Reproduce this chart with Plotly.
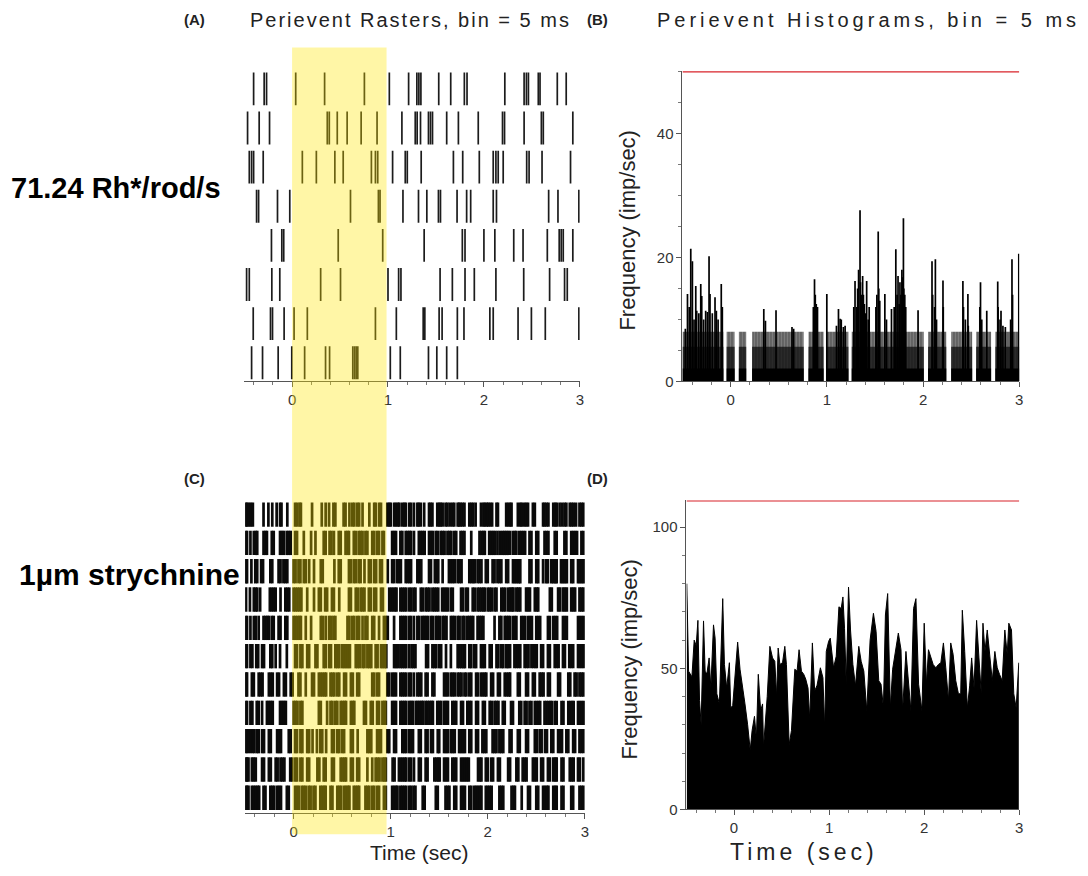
import plotly.graph_objects as go

# ---------------- data ----------------
# Panel A: spike times (s) per trial, top trial first
raster_a = [
    [-0.401, -0.291, -0.266, 0.038, 0.339, 0.754, 1.014, 1.215, 1.301, 1.322, 1.343, 1.529, 1.654, 1.796, 1.824,
     2.218, 2.419, 2.443, 2.464, 2.567, 2.585, 2.765, 2.858],
    [-0.464, -0.343, -0.235, 0.367, 0.388, 0.471, 0.574, 0.720, 0.886, 1.145, 1.284, 1.304, 1.339, 1.422, 1.443,
     1.464, 1.612, 1.734, 1.941, 2.194, 2.215, 2.419, 2.599, 2.619, 2.927],
    [-0.446, -0.422, -0.401, -0.301, 0.107, 0.253, 0.446, 0.533, 0.827, 0.869, 0.893, 1.048, 1.180, 1.201, 1.346,
     1.682, 1.779, 1.952, 2.097, 2.125, 2.149, 2.201, 2.446, 2.471, 2.606, 2.903],
    [-0.370, -0.349, -0.152, -0.024, 0.609, 0.900, 0.917, 1.156, 1.318, 1.405, 1.526, 1.547, 1.720, 1.820, 1.862,
     2.097, 2.131, 2.675, 2.772, 2.990],
    [-0.215, -0.107, -0.087, 0.481, 0.945, 1.377, 1.775, 1.803, 2.000, 2.114, 2.311, 2.408, 2.661, 2.785, 2.806,
     2.827, 2.927],
    [-0.474, -0.446, -0.211, -0.128, 0.298, 0.505, 1.000, 1.111, 1.135, 1.543, 1.671, 1.803, 1.900, 2.125, 2.415,
     2.685, 2.841, 2.869],
    [-0.405, -0.225, -0.204, -0.083, 0.021, 0.159, 0.869, 1.087, 1.367, 1.384, 1.533, 1.564, 1.723, 1.792, 2.062,
     2.097, 2.356, 2.495, 2.640, 2.990],
    [-0.422, -0.308, -0.145, -0.003, 0.131, 0.349, 0.391, 0.633, 0.651, 0.668, 0.685, 1.024, 1.128, 1.422, 1.509,
     1.612, 1.723],
]

# Panel C: spike times (s) per trial with strychnine, top trial first
raster_c = [
    [-0.49, -0.48, -0.46, -0.44, -0.42, -0.31, -0.26, -0.22, -0.175, -0.14, -0.125, -0.065, 0.015, 0.035, 0.06, 0.075,
     0.19, 0.29, 0.33, 0.365, 0.41, 0.43, 0.515, 0.535, 0.575, 0.605, 0.625, 0.655, 0.675, 0.71, 0.78, 0.83, 0.845,
     0.88, 0.9, 0.965, 0.985, 1.0, 1.035, 1.055, 1.075, 1.09, 1.12, 1.14, 1.155, 1.19, 1.21, 1.24, 1.275, 1.29, 1.31,
     1.345, 1.395, 1.41, 1.43, 1.48, 1.5, 1.515, 1.535, 1.565, 1.585, 1.61, 1.635, 1.655, 1.69, 1.705, 1.72, 1.74,
     1.76, 1.81, 1.83, 1.85, 1.875, 1.93, 1.955, 1.97, 1.99, 2.005, 2.025, 2.045, 2.09, 2.105, 2.19, 2.21, 2.23,
     2.245, 2.31, 2.335, 2.35, 2.375, 2.395, 2.415, 2.465, 2.485, 2.57, 2.585, 2.605, 2.625, 2.675, 2.695, 2.71,
     2.74, 2.765, 2.79, 2.81, 2.845, 2.865, 2.885, 2.91, 2.945, 2.965, 2.985],
    [-0.49, -0.48, -0.445, -0.41, -0.39, -0.375, -0.31, -0.29, -0.275, -0.225, -0.205, -0.14, -0.12, -0.1, -0.07,
     -0.05, -0.03, 0.015, 0.035, 0.105, 0.18, 0.225, 0.31, 0.33, 0.37, 0.39, 0.415, 0.465, 0.485, 0.535, 0.555,
     0.57, 0.62, 0.64, 0.67, 0.69, 0.71, 0.74, 0.76, 0.81, 0.83, 0.86, 0.88, 0.915, 0.93, 1.015, 1.035, 1.055, 1.1,
     1.12, 1.155, 1.175, 1.195, 1.21, 1.24, 1.29, 1.31, 1.33, 1.35, 1.395, 1.415, 1.435, 1.465, 1.485, 1.515, 1.535,
     1.555, 1.585, 1.605, 1.625, 1.655, 1.675, 1.72, 1.74, 1.76, 1.83, 1.915, 1.935, 1.955, 1.97, 2.015, 2.035,
     2.055, 2.075, 2.1, 2.125, 2.15, 2.17, 2.19, 2.21, 2.23, 2.26, 2.28, 2.295, 2.325, 2.345, 2.365, 2.385, 2.43,
     2.45, 2.5, 2.52, 2.585, 2.605, 2.625, 2.69, 2.71, 2.79, 2.81, 2.86, 2.88, 2.9, 2.92, 2.965, 2.985],
    [-0.49, -0.48, -0.435, -0.395, -0.375, -0.335, -0.315, -0.24, -0.22, -0.155, -0.135, -0.105, -0.085, -0.065,
     0.0, 0.02, 0.05, 0.07, 0.105, 0.125, 0.16, 0.21, 0.28, 0.3, 0.42, 0.465, 0.485, 0.57, 0.59, 0.62, 0.64, 0.67,
     0.69, 0.73, 0.775, 0.795, 0.83, 0.85, 0.89, 0.91, 0.97, 1.015, 1.035, 1.065, 1.085, 1.105, 1.155, 1.175,
     1.195, 1.21, 1.275, 1.295, 1.315, 1.395, 1.415, 1.455, 1.475, 1.49, 1.535, 1.6, 1.62, 1.64, 1.66, 1.69, 1.71,
     1.73, 1.81, 1.83, 1.85, 1.865, 1.895, 1.915, 1.935, 1.98, 2.0, 2.05, 2.07, 2.1, 2.12, 2.14, 2.19, 2.21, 2.26,
     2.28, 2.3, 2.32, 2.335, 2.43, 2.45, 2.5, 2.52, 2.57, 2.6, 2.62, 2.655, 2.675, 2.695, 2.71, 2.755, 2.775,
     2.795, 2.815, 2.86, 2.88, 2.93, 2.95, 2.97, 2.99],
    [-0.49, -0.45, -0.41, -0.39, -0.375, -0.345, -0.245, -0.225, -0.205, -0.185, -0.135, -0.085, -0.065, -0.045,
     0.0, 0.02, 0.04, 0.06, 0.08, 0.14, 0.21, 0.26, 0.28, 0.325, 0.345, 0.395, 0.415, 0.47, 0.57, 0.59, 0.64, 0.66,
     0.69, 0.71, 0.73, 0.775, 0.795, 0.83, 0.85, 0.9, 0.92, 0.985, 1.005, 1.025, 1.045, 1.06, 1.1, 1.12, 1.14, 1.16,
     1.19, 1.21, 1.235, 1.255, 1.31, 1.33, 1.36, 1.38, 1.4, 1.43, 1.45, 1.47, 1.49, 1.53, 1.55, 1.57, 1.59, 1.62,
     1.64, 1.725, 1.745, 1.775, 1.795, 1.845, 1.865, 1.895, 1.915, 1.935, 1.955, 1.97, 2.0, 2.02, 2.04, 2.07, 2.09,
     2.14, 2.16, 2.18, 2.21, 2.23, 2.25, 2.265, 2.295, 2.315, 2.335, 2.395, 2.415, 2.435, 2.485, 2.505, 2.52, 2.64,
     2.66, 2.725, 2.745, 2.775, 2.795, 2.815, 2.86, 2.88, 2.9, 2.945, 2.965, 2.985],
    [-0.49, -0.48, -0.445, -0.41, -0.39, -0.36, -0.31, -0.29, -0.27, -0.255, -0.225, -0.205, -0.155, -0.135,
     -0.085, -0.065, 0.0, 0.02, 0.04, 0.06, 0.075, 0.125, 0.18, 0.28, 0.3, 0.33, 0.365, 0.385, 0.41, 0.43, 0.555,
     0.575, 0.605, 0.625, 0.655, 0.675, 0.71, 0.74, 0.76, 0.81, 0.83, 0.88, 0.93, 0.95, 0.97, 1.035, 1.1, 1.12,
     1.14, 1.16, 1.19, 1.21, 1.24, 1.275, 1.295, 1.325, 1.345, 1.365, 1.385, 1.415, 1.435, 1.465, 1.485, 1.505,
     1.535, 1.555, 1.575, 1.62, 1.64, 1.66, 1.69, 1.71, 1.74, 1.76, 1.79, 1.81, 1.83, 1.85, 1.895, 1.915, 1.935,
     1.955, 2.07, 2.12, 2.14, 2.175, 2.195, 2.215, 2.23, 2.26, 2.28, 2.295, 2.345, 2.365, 2.385, 2.415, 2.435,
     2.455, 2.5, 2.52, 2.54, 2.62, 2.64, 2.675, 2.695, 2.715, 2.775, 2.795, 2.815, 2.93, 2.95, 2.97, 2.99],
    [-0.49, -0.48, -0.445, -0.425, -0.385, -0.365, -0.325, -0.305, -0.24, -0.22, -0.185, -0.14, -0.07, 0.015,
     0.035, 0.07, 0.09, 0.14, 0.16, 0.225, 0.245, 0.31, 0.33, 0.365, 0.385, 0.43, 0.45, 0.47, 0.5, 0.52, 0.54,
     0.56, 0.58, 0.64, 0.66, 0.68, 0.71, 0.73, 0.76, 0.78, 0.8, 0.845, 0.865, 0.9, 0.92, 0.94, 0.955, 1.035, 1.055,
     1.075, 1.1, 1.12, 1.14, 1.16, 1.19, 1.215, 1.235, 1.255, 1.365, 1.385, 1.43, 1.45, 1.47, 1.5, 1.52, 1.57,
     1.62, 1.69, 1.71, 1.73, 1.75, 1.765, 1.81, 1.83, 1.86, 1.88, 1.93, 1.95, 1.97, 2.02, 2.04, 2.09, 2.11, 2.14,
     2.16, 2.19, 2.21, 2.23, 2.275, 2.295, 2.315, 2.335, 2.38, 2.4, 2.42, 2.45, 2.47, 2.49, 2.505, 2.55, 2.57,
     2.62, 2.64, 2.69, 2.71, 2.73, 2.775, 2.795, 2.84, 2.86, 2.88, 2.93, 2.95, 2.97, 2.99],
    [-0.49, -0.48, -0.43, -0.41, -0.36, -0.34, -0.32, -0.255, -0.235, -0.215, -0.17, -0.15, -0.1, -0.08, -0.03,
     -0.01, 0.05, 0.07, 0.125, 0.19, 0.21, 0.26, 0.28, 0.3, 0.32, 0.335, 0.38, 0.4, 0.42, 0.45, 0.47, 0.52, 0.54,
     0.59, 0.61, 0.655, 0.675, 0.81, 0.83, 0.86, 0.88, 0.965, 0.985, 1.015, 1.035, 1.055, 1.1, 1.12, 1.14, 1.16,
     1.19, 1.21, 1.24, 1.275, 1.295, 1.315, 1.36, 1.38, 1.43, 1.45, 1.55, 1.57, 1.59, 1.62, 1.64, 1.66, 1.69, 1.71,
     1.73, 1.76, 1.78, 1.81, 1.83, 1.88, 1.9, 1.93, 1.95, 1.97, 1.985, 2.035, 2.055, 2.105, 2.125, 2.175, 2.195,
     2.215, 2.23, 2.31, 2.33, 2.395, 2.415, 2.465, 2.485, 2.535, 2.555, 2.575, 2.62, 2.64, 2.725, 2.745, 2.83,
     2.85, 2.895, 2.915, 2.945, 2.965, 2.985],
    [-0.49, -0.48, -0.445, -0.425, -0.38, -0.36, -0.325, -0.275, -0.255, -0.235, -0.215, -0.14, -0.12, -0.1, -0.08,
     0.0, 0.02, 0.04, 0.07, 0.09, 0.26, 0.28, 0.345, 0.38, 0.4, 0.43, 0.45, 0.485, 0.505, 0.525, 0.54, 0.59, 0.61,
     0.625, 0.725, 0.745, 0.795, 0.815, 0.86, 0.88, 0.915, 0.935, 0.95, 1.015, 1.035, 1.055, 1.1, 1.12, 1.14, 1.16,
     1.19, 1.21, 1.23, 1.26, 1.28, 1.3, 1.32, 1.335, 1.36, 1.38, 1.4, 1.42, 1.435, 1.48, 1.5, 1.52, 1.55, 1.57,
     1.59, 1.635, 1.655, 1.675, 1.725, 1.745, 1.79, 1.81, 1.83, 1.88, 1.9, 1.95, 1.97, 2.02, 2.04, 2.07, 2.09, 2.11,
     2.155, 2.175, 2.24, 2.26, 2.325, 2.345, 2.38, 2.4, 2.43, 2.45, 2.485, 2.505, 2.525, 2.54, 2.585, 2.605, 2.625,
     2.645, 2.66, 2.69, 2.71, 2.76, 2.78, 2.83, 2.85, 2.87, 2.885, 2.93, 2.95, 2.97, 2.99],
    [-0.49, -0.48, -0.46, -0.44, -0.42, -0.405, -0.38, -0.36, -0.325, -0.305, -0.255, -0.235, -0.17, -0.15, -0.13,
     -0.05, -0.03, 0.015, 0.035, 0.07, 0.09, 0.14, 0.16, 0.195, 0.24, 0.275, 0.295, 0.335, 0.395, 0.415, 0.45,
     0.47, 0.5, 0.52, 0.59, 0.61, 0.66, 0.76, 0.78, 0.8, 0.86, 0.88, 0.9, 0.965, 0.985, 1.035, 1.055, 1.12, 1.14,
     1.16, 1.19, 1.21, 1.23, 1.29, 1.31, 1.36, 1.38, 1.415, 1.435, 1.485, 1.5, 1.55, 1.57, 1.59, 1.62, 1.64, 1.66,
     1.705, 1.725, 1.745, 1.765, 1.81, 1.83, 1.88, 1.9, 1.945, 1.965, 1.985, 2.05, 2.07, 2.09, 2.12, 2.14, 2.16,
     2.225, 2.245, 2.31, 2.33, 2.395, 2.415, 2.485, 2.505, 2.535, 2.555, 2.59, 2.61, 2.655, 2.675, 2.725, 2.745,
     2.765, 2.81, 2.83, 2.88, 2.9, 2.945, 2.965, 2.985],
    [-0.49, -0.48, -0.465, -0.43, -0.41, -0.39, -0.325, -0.305, -0.255, -0.235, -0.185, -0.165, -0.135, -0.115,
     -0.095, -0.035, -0.015, 0.015, 0.035, 0.07, 0.09, 0.14, 0.16, 0.245, 0.265, 0.31, 0.33, 0.395, 0.415, 0.485,
     0.505, 0.525, 0.54, 0.59, 0.61, 0.655, 0.675, 0.76, 0.81, 0.845, 0.865, 0.885, 0.915, 0.935, 0.95, 1.02, 1.04,
     1.085, 1.105, 1.125, 1.145, 1.16, 1.19, 1.21, 1.24, 1.29, 1.31, 1.36, 1.38, 1.45, 1.47, 1.49, 1.505, 1.55,
     1.57, 1.59, 1.635, 1.655, 1.675, 1.725, 1.745, 1.765, 1.785, 1.805, 1.9, 1.92, 1.935, 1.98, 2.0, 2.035, 2.055,
     2.105, 2.125, 2.21, 2.23, 2.295, 2.315, 2.36, 2.38, 2.4, 2.465, 2.485, 2.505, 2.55, 2.57, 2.62, 2.64, 2.675,
     2.695, 2.71, 2.76, 2.78, 2.845, 2.865, 2.885, 2.93, 2.95, 2.985],
    [-0.49, -0.48, -0.465, -0.43, -0.41, -0.39, -0.37, -0.355, -0.31, -0.29, -0.24, -0.22, -0.2, -0.17, -0.15,
     -0.13, -0.07, -0.05, 0.015, 0.035, 0.055, 0.085, 0.105, 0.125, 0.155, 0.175, 0.205, 0.225, 0.275, 0.295,
     0.315, 0.33, 0.38, 0.4, 0.45, 0.47, 0.49, 0.52, 0.54, 0.56, 0.575, 0.62, 0.64, 0.66, 0.675, 0.74, 0.76, 0.78,
     0.81, 0.83, 0.86, 0.88, 0.93, 0.95, 1.015, 1.035, 1.055, 1.07, 1.1, 1.12, 1.14, 1.16, 1.19, 1.21, 1.235,
     1.255, 1.33, 1.35, 1.465, 1.485, 1.565, 1.585, 1.605, 1.655, 1.675, 1.725, 1.745, 1.765, 1.81, 1.83, 1.86,
     1.88, 1.9, 1.92, 1.935, 1.98, 2.0, 2.02, 2.04, 2.12, 2.14, 2.16, 2.245, 2.265, 2.28, 2.35, 2.415, 2.435, 2.5,
     2.52, 2.57, 2.59, 2.61, 2.625, 2.675, 2.695, 2.71, 2.76, 2.78, 2.86, 2.88, 2.945, 2.965, 2.985],
]

# Panel B: histogram (imp/sec) - occupied stretches, their rate levels, and tall bins
hist_b_seg_start = [-0.5, -0.041, 0.086, 0.224, 0.810, 0.993, 1.259, 2.052, 2.293, 2.552, 2.752]
hist_b_seg_end = [-0.076, 0.041, 0.162, 0.759, 0.966, 1.224, 2.007, 2.241, 2.510, 2.707, 3.0]
hist_b_levels = [8.0, 5.6, 2.1]
hist_b_peak_t = [-0.470, -0.448, -0.430, -0.414, -0.397, -0.380, -0.362, -0.352, -0.330, -0.310, -0.300, -0.280,
                 -0.259, -0.241, -0.224, -0.214, -0.190, -0.162, -0.148, -0.130, -0.097, -0.086,
                 0.345, 0.362, 0.472, 0.638, 0.655, 0.860, 0.872, 0.880, 0.890, 0.903, 1.000, 1.100, 1.121,
                 1.138, 1.150, 1.172, 1.190, 1.280, 1.293, 1.310, 1.320, 1.330, 1.345, 1.350, 1.360, 1.372, 1.380,
                 1.390, 1.400, 1.414, 1.430, 1.440, 1.510, 1.520, 1.534, 1.540, 1.550, 1.603, 1.620, 1.672, 1.700,
                 1.717, 1.730, 1.740, 1.752, 1.760, 1.770, 1.780, 1.786, 1.796, 1.800, 1.810, 1.820, 1.948, 2.093,
                 2.100, 2.120, 2.128, 2.140, 2.207, 2.210, 2.414, 2.420, 2.440, 2.466, 2.470, 2.590, 2.597, 2.610,
                 2.662, 2.776, 2.780, 2.800, 2.810, 2.830, 2.855, 2.910, 2.924, 2.930, 2.995]
hist_b_peak_h = [8.5, 14.1, 12.0, 21.4, 19.4, 10.0, 15.4, 11.4, 11.0, 15.7, 13.8, 10.0,
                 11.4, 11.2, 20.2, 14.1, 11.0, 13.6, 11.4, 10.0, 15.7, 12.0,
                 11.7, 9.8, 11.5, 8.8, 8.5, 12.0, 16.5, 14.0, 12.5, 12.0, 14.1, 9.0, 11.7,
                 10.1, 10.0, 8.8, 9.0, 12.0, 16.2, 12.0, 15.0, 18.0, 27.6, 16.0, 14.0, 17.0, 14.0,
                 12.5, 11.0, 16.2, 10.0, 12.0, 12.0, 14.0, 24.2, 15.0, 13.0, 14.1, 10.0, 11.7, 12.0,
                 21.3, 14.0, 17.0, 12.5, 16.0, 14.0, 18.0, 16.8, 26.3, 15.0, 14.0, 12.0, 11.5, 19.4,
                 14.0, 12.0, 19.7, 10.0, 16.3, 12.0, 16.2, 12.0, 10.0, 14.1, 9.0, 12.0, 16.0, 10.0,
                 11.4, 16.1, 12.0, 10.0, 11.4, 9.0, 8.8, 10.0, 19.7, 14.0, 20.6]

# Panel D: histogram outline (imp/sec)
hist_d_t = [-0.497, -0.478, -0.443, -0.419, -0.398, -0.380, -0.363, -0.346, -0.321, -0.304, -0.286, -0.262, -0.244,
            -0.216, -0.199, -0.181, -0.154, -0.119, -0.101, -0.077, -0.049, -0.035, -0.014, 0.010, 0.038, 0.063,
            0.091, 0.115, 0.143, 0.17, 0.19, 0.215, 0.235, 0.255, 0.28, 0.300, 0.31, 0.33, 0.349, 0.377, 0.405,
            0.429, 0.447, 0.464, 0.482, 0.510, 0.534, 0.551, 0.565, 0.58, 0.604, 0.620, 0.639, 0.663, 0.684, 0.709,
            0.733, 0.754, 0.778, 0.796, 0.824, 0.848, 0.873, 0.908, 0.935, 0.953, 0.970, 0.995, 1.012, 1.047, 1.075,
            1.103, 1.127, 1.145, 1.162, 1.180, 1.204, 1.225, 1.250, 1.277, 1.312, 1.337, 1.365, 1.396, 1.431, 1.466,
            1.494, 1.522, 1.546, 1.571, 1.592, 1.616, 1.644, 1.668, 1.696, 1.728, 1.756, 1.773, 1.808, 1.836, 1.860,
            1.888, 1.913, 1.941, 1.976, 2.000, 2.024, 2.045, 2.070, 2.094, 2.122, 2.150, 2.175, 2.202, 2.227, 2.255,
            2.279, 2.304, 2.332, 2.360, 2.384, 2.401, 2.426, 2.454, 2.478, 2.499, 2.524, 2.551, 2.576, 2.600, 2.618,
            2.639, 2.663, 2.688, 2.716, 2.743, 2.768, 2.792, 2.820, 2.848, 2.873, 2.890, 2.918, 2.942, 2.967, 2.995]
hist_d_v = [80, 49, 47, 60, 58, 67, 38.6, 30, 66.8, 49, 48, 53.7, 43,
            65.4, 60.7, 41, 37.4, 74.7, 51.4, 43, 52, 36, 36.8, 47.3, 59.3, 49.7,
            43.8, 37.4, 30, 21, 28, 33, 25, 47.9, 35, 37.4, 22, 30, 40, 57.8, 53.7,
            52.5, 40, 57.2, 51.4, 52, 57.8, 51.4, 35, 23, 28, 38, 49.7, 49, 56.6, 49,
            47.9, 46.2, 43, 32, 59, 42, 44, 50.2, 46.7, 29, 56, 59.6, 60.7, 50.2, 54.3,
            71.8, 71.2, 75.3, 64.2, 44.4, 78.8, 63.6, 51.4, 43.8, 57.8, 52.5, 49, 35, 60, 69.5,
            63.1, 45.6, 44.4, 36, 68.9, 76.5, 36, 49.7, 56, 62.5, 56.6, 35, 56, 45.6, 35,
            71.2, 74.7, 44.4, 35, 66, 44.4, 56.6, 53.7, 51.4, 50.2, 51.4, 52, 59, 50.2, 38.6,
            59, 55, 45.6, 41, 41, 70.6, 56, 36, 43.8, 53.7, 43, 67, 53.7, 41, 66,
            56, 63.6, 53.7, 45.6, 56, 50.2, 47.9, 45.6, 63.6, 54.9, 66, 63.6, 41, 36, 52]

# upper frame values of the two histograms
hist_b_top = 50
hist_d_top = 109.5

# ---------------- drawing ----------------
FONT = "Arial, Liberation Sans, sans-serif"
TICK_FONT = dict(family=FONT, size=15, color="#333333")


def raster_xy(trials, half):
    xs, ys = [], []
    n = len(trials)
    for k, spikes in enumerate(trials):
        row = n - 1 - k
        for t in spikes:
            xs += [t, t, None]
            ys += [row - half, row + half, None]
    return xs, ys


fig = go.Figure()

ax, ay = raster_xy(raster_a, 0.42)
fig.add_trace(go.Scatter(x=ax, y=ay, mode="lines", line=dict(color="#1c1c1c", width=1.7),
                         xaxis="x", yaxis="y", hoverinfo="skip"))

cx, cy = raster_xy(raster_c, 0.43)
fig.add_trace(go.Scatter(x=cx, y=cy, mode="lines", line=dict(color="#0a0a0a", width=2.7),
                         xaxis="x3", yaxis="y3", hoverinfo="skip"))

# panel B: occupied stretches drawn at each rate level, striped on top, solid below
seg_mid = [(s + e) / 2 for s, e in zip(hist_b_seg_start, hist_b_seg_end)]
seg_w = [e - s for s, e in zip(hist_b_seg_start, hist_b_seg_end)]
band_styles = [
    dict(color="white", line=dict(width=0),
         pattern=dict(shape="|", fgcolor="#000000", bgcolor="#9a9a9a", size=3, solidity=0.6)),
    dict(color="white", line=dict(width=0),
         pattern=dict(shape="|", fgcolor="#000000", bgcolor="#3a3a3a", size=3, solidity=0.7)),
    dict(color="black", line=dict(width=0)),
]
for level, style in zip(hist_b_levels, band_styles):
    fig.add_trace(go.Bar(x=seg_mid, y=[level] * len(seg_mid), width=seg_w, marker=style,
                         xaxis="x2", yaxis="y2", hoverinfo="skip"))
bx, by = [], []
for t, h in zip(hist_b_peak_t, hist_b_peak_h):
    bx += [t, t, None]
    by += [0, h, None]
fig.add_trace(go.Scatter(x=bx, y=by, mode="lines", line=dict(color="black", width=1.7),
                         xaxis="x2", yaxis="y2", hoverinfo="skip"))

fig.add_trace(go.Scatter(x=hist_d_t, y=hist_d_v, mode="lines", fill="tozeroy", fillcolor="black",
                         line=dict(color="black", width=1), xaxis="x4", yaxis="y4", hoverinfo="skip"))


def time_axis(domain, anchor):
    return dict(domain=domain, anchor=anchor, range=[-0.5, 3], tick0=0, dtick=1,
                showline=True, linecolor="#555555", linewidth=1, ticks="outside", ticklen=5,
                tickcolor="#555555", tickfont=TICK_FONT, showgrid=False, zeroline=False,
                minor=dict(ticks="outside", dtick=0.2, tick0=0, ticklen=3, tickcolor="#777777"))


fig.update_layout(
    width=1088, height=876, margin=dict(l=0, r=0, t=0, b=0),
    paper_bgcolor="white", plot_bgcolor="rgba(0,0,0,0)", showlegend=False,
    barmode="overlay",
    xaxis=time_axis([0.2252, 0.5349], "y"),
    yaxis=dict(domain=[0.5605, 0.9201], range=[-0.48, 7.5], visible=False),
    xaxis3=time_axis([0.2261, 0.5395], "y3"),
    yaxis3=dict(domain=[0.0639, 0.4235], range=[-0.52, 10.5], visible=False),
    xaxis2=time_axis([0.6296, 0.9403], "y2"),
    yaxis2=dict(domain=[0.5605, 0.9178], anchor="x2", range=[0, hist_b_top], tick0=0, dtick=20,
                showline=True, linecolor="#555555", ticks="outside", ticklen=5, tickcolor="#555555",
                tickfont=TICK_FONT, showgrid=False, zeroline=False,
                minor=dict(ticks="outside", dtick=5, ticklen=3, tickcolor="#777777")),
    xaxis4=time_axis([0.6333, 0.9403], "y4"),
    yaxis4=dict(domain=[0.0674, 0.4235], anchor="x4", range=[0, hist_d_top], tick0=0, dtick=50,
                showline=True, linecolor="#555555", ticks="outside", ticklen=5, tickcolor="#555555",
                tickfont=TICK_FONT, showgrid=False, zeroline=False,
                minor=dict(ticks="outside", dtick=10, ticklen=3, tickcolor="#777777")),
)

# stimulus window shading across both raster panels
fig.add_shape(type="rect", xref="x", yref="paper", x0=0, x1=0.985, y0=0.0388, y1=0.9452,
              fillcolor="rgba(255,230,0,0.35)", line=dict(width=0), layer="above")
# top frame lines of the histograms
fig.add_shape(type="line", xref="x2", yref="y2", x0=-0.5, x1=3, y0=hist_b_top, y1=hist_b_top,
              line=dict(color="#d8232a", width=2.2))
fig.add_shape(type="line", xref="x4", yref="y4", x0=-0.5, x1=3, y0=hist_d_top, y1=hist_d_top,
              line=dict(color="#d8232a", width=2.2))


def label(text, x, y, size, bold=False, angle=0, color="#222222"):
    fig.add_annotation(text=f"<b>{text}</b>" if bold else text, x=x / 1088, y=1 - y / 876,
                       xref="paper", yref="paper", showarrow=False, textangle=angle,
                       xanchor="center", yanchor="middle", borderpad=0,
                       font=dict(family=FONT, size=size, color=color))


label("(A)", 195, 20, 15, bold=True)
label("(B)", 600, 20, 15, bold=True)
label("(C)", 195, 483, 15, bold=True)
label("(D)", 600, 483, 15, bold=True)
label('<span style="letter-spacing:2px">Perievent Rasters, bin = 5 ms</span>', 412, 20, 20)
label('<span style="letter-spacing:4px">Perievent Histograms, bin = 5 ms</span>', 872, 20, 20)
label("71.24 Rh*/rod/s", 116, 190, 29, bold=True, color="black")
label("1µm strychnine", 130, 580, 30, bold=True, color="black")
label("Frequency (imp/sec)", 630, 232, 22, angle=-90)
label("Frequency (imp/sec)", 632, 665, 22, angle=-90)
label("Time (sec)", 421, 860, 21)
label('<span style="letter-spacing:4px">Time (sec)</span>', 807, 860, 23)

fig.write_html("out.html")
